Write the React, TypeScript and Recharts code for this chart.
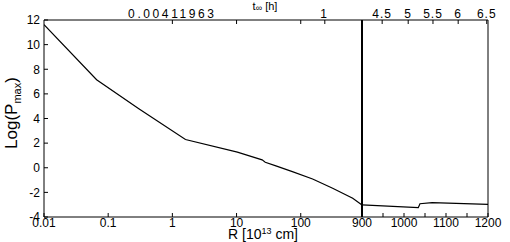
import React from 'react';
import { LineChart, Line, XAxis, YAxis } from 'recharts';

// R [10^13 cm] vs Log(Pmax), inner (log) panel
const leftR = [0.01, 0.066, 0.3, 1.6, 10.3, 25, 28, 41, 74, 153, 314, 645, 900];
const leftLogP = [11.63, 7.15, 4.79, 2.29, 1.27, 0.64, 0.45, 0.15, -0.31, -0.91, -1.66, -2.48, -3.02];

// outer (linear) panel
const rightR = [900, 1034, 1038, 1067, 1200];
const rightLogP = [-3.02, -3.24, -2.92, -2.84, -2.97];

const yTicks = [-4, -2, 0, 2, 4, 6, 8, 10, 12];
const leftBottomTicks = [0.01, 0.1, 1, 10, 100, 900];
const leftBottomLabels = ['0.01', '0.1', '1', '10', '100', '900'];
const leftTopTicks = [1, 10, 100, 237];
const leftTopLabels = ['0.00411963', '', '', '1'];
const rightBottomTicks = [900, 950, 1000, 1050, 1100, 1150, 1200];
const rightBottomLabels = ['', '', '1000', '', '1100', '', '1200'];
const rightTopTicks = [948, 1010, 1069, 1129, 1197];
const rightTopLabels = ['4.5', '5', '5.5', '6', '6.5'];

const FONT = '"Liberation Sans", Arial, Helvetica, sans-serif';
const tickStyle = { fill: '#000', fontSize: 12, fontFamily: FONT };

const leftData = leftR.map((r, i) => ({ r, p: leftLogP[i] }));
const rightData = rightR.map((r, i) => ({ r, p: rightLogP[i] }));

const fmt = (ticks: number[], labels: string[]) => (v: number) => {
  const i = ticks.indexOf(v);
  return i >= 0 ? labels[i] : '';
};

export default function App() {
  return (
    <div style={{ position: 'absolute', left: 0, top: 0, width: 510, height: 242, background: '#fff' }}>
      <div style={{ position: 'absolute', left: 0, top: 0 }}>
        <LineChart width={510} height={242} data={leftData} margin={{ top: 0, right: 147, bottom: 0, left: 0 }}>
          <XAxis
            xAxisId="b"
            dataKey="r"
            type="number"
            scale="log"
            domain={[0.01, 900]}
            allowDataOverflow
            ticks={leftBottomTicks}
            interval={0}
            tickFormatter={fmt(leftBottomTicks, leftBottomLabels)}
            height={25}
            tickSize={-4}
            tickMargin={5}
            stroke="#000"
            tick={tickStyle}
          />
          <XAxis
            xAxisId="t"
            orientation="top"
            dataKey="r"
            type="number"
            scale="log"
            domain={[0.01, 900]}
            allowDataOverflow
            ticks={leftTopTicks}
            interval={0}
            tickFormatter={fmt(leftTopTicks, leftTopLabels)}
            height={20}
            tickSize={-4}
            tickMargin={6}
            stroke="#000"
            tick={{ ...tickStyle, letterSpacing: 2.6 }}
          />
          <YAxis
            yAxisId="l"
            type="number"
            domain={[-4, 12]}
            allowDataOverflow
            ticks={yTicks}
            interval={0}
            width={44}
            tickSize={-4}
            tickMargin={8}
            stroke="#000"
            tick={tickStyle}
          />
          <YAxis
            yAxisId="r"
            orientation="right"
            type="number"
            domain={[-4, 12]}
            width={1}
            tick={false}
            tickLine={false}
            axisLine={{ stroke: '#000', strokeWidth: 2 }}
          />
          <Line
            xAxisId="b"
            yAxisId="l"
            dataKey="p"
            type="linear"
            stroke="#000"
            strokeWidth={1.2}
            dot={false}
            isAnimationActive={false}
          />
        </LineChart>
      </div>
      <div style={{ position: 'absolute', left: 0, top: 0 }}>
        <LineChart width={510} height={242} data={rightData} margin={{ top: 0, right: 21, bottom: 0, left: 361 }}>
          <XAxis
            xAxisId="b"
            dataKey="r"
            type="number"
            domain={[900, 1200]}
            allowDataOverflow
            ticks={rightBottomTicks}
            interval={0}
            tickFormatter={fmt(rightBottomTicks, rightBottomLabels)}
            height={25}
            tickSize={-4}
            tickMargin={5}
            stroke="#000"
            tick={tickStyle}
          />
          <XAxis
            xAxisId="t"
            orientation="top"
            dataKey="r"
            type="number"
            domain={[900, 1200]}
            allowDataOverflow
            ticks={rightTopTicks}
            interval={0}
            tickFormatter={fmt(rightTopTicks, rightTopLabels)}
            height={20}
            tickSize={-4}
            tickMargin={6}
            stroke="#000"
            tick={{ ...tickStyle, letterSpacing: 1 }}
          />
          <YAxis
            yAxisId="l"
            type="number"
            domain={[-4, 12]}
            allowDataOverflow
            ticks={yTicks}
            interval={0}
            width={1}
            tickSize={-4}
            tickMargin={0}
            tick={false}
            stroke="#000"
            axisLine={{ stroke: '#000', strokeWidth: 2 }}
          />
          <YAxis
            yAxisId="r"
            orientation="right"
            type="number"
            domain={[-4, 12]}
            width={1}
            tick={false}
            tickLine={false}
            axisLine={{ stroke: '#000', strokeWidth: 1 }}
          />
          <Line
            xAxisId="b"
            yAxisId="l"
            dataKey="p"
            type="linear"
            stroke="#000"
            strokeWidth={1.2}
            dot={false}
            isAnimationActive={false}
          />
        </LineChart>
      </div>
      <svg width={510} height={242} style={{ position: 'absolute', left: 0, top: 0, pointerEvents: 'none' }}>
        <text x={265} y={10} textAnchor="middle" fontFamily={FONT} fontSize={11} fill="#000">
          t<tspan fontSize={9} dy={1}>∞</tspan>
          <tspan dy={-1}> [h]</tspan>
        </text>
        <text x={263} y={239} textAnchor="middle" fontFamily={FONT} fontSize={14} fill="#000">
          R [10<tspan fontSize={9} dy={-5}>13</tspan>
          <tspan dy={5}> cm]</tspan>
        </text>
        <text
          x={17}
          y={113}
          textAnchor="middle"
          transform="rotate(-90 17 113)"
          fontFamily={FONT}
          fontSize={17}
          fill="#000"
        >
          Log(P<tspan fontSize={11} dy={4}>max</tspan>
          <tspan dy={-4}>)</tspan>
        </text>
      </svg>
    </div>
  );
}
